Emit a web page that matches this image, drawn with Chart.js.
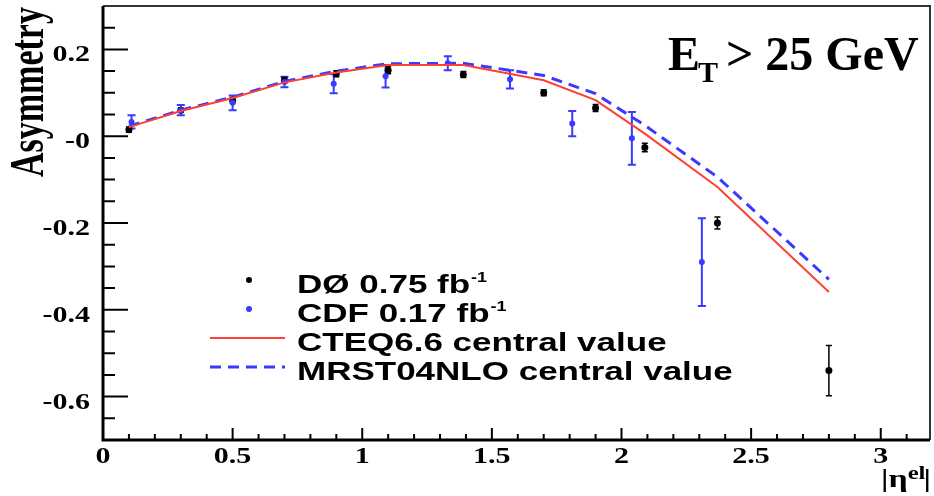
<!DOCTYPE html>
<html>
<head>
<meta charset="utf-8">
<script src="https://cdn.jsdelivr.net/npm/chart.js@4"></script>
<style>
  html, body { margin: 0; padding: 0; background: #fff; }
  canvas { display: block; }
</style>
</head>
<body>
<canvas id="asymChart" width="934" height="496"></canvas>
<script>
// D0 0.75 fb-1 measurement
const d0Eta = [0.10, 0.30, 0.50, 0.70, 0.90, 1.10, 1.39, 1.70, 1.90, 2.09, 2.37, 2.80];
const d0Asym = [0.015, 0.060, 0.083, 0.129, 0.144, 0.152, 0.142, 0.100, 0.065, -0.026, -0.200, -0.540];
const d0Err = [0.006, 0.005, 0.006, 0.006, 0.007, 0.008, 0.007, 0.007, 0.008, 0.010, 0.014, 0.058];

// CDF 0.17 fb-1 measurement
const cdfEta = [0.11, 0.30, 0.50, 0.70, 0.89, 1.09, 1.33, 1.57, 1.81, 2.04, 2.31];
const cdfAsym = [0.033, 0.060, 0.077, 0.125, 0.121, 0.138, 0.168, 0.131, 0.029, -0.005, -0.290];
const cdfErr = [0.015, 0.012, 0.017, 0.012, 0.022, 0.026, 0.016, 0.021, 0.029, 0.061, 0.101];

// theory predictions
const theoryEta = [0.10, 0.30, 0.50, 0.70, 0.90, 1.10, 1.39, 1.70, 1.90, 2.09, 2.37, 2.80];
const cteqAsym = [0.021, 0.058, 0.088, 0.124, 0.147, 0.164, 0.164, 0.129, 0.083, 0.006, -0.117, -0.359];
const mrstAsym = [0.023, 0.060, 0.090, 0.126, 0.150, 0.167, 0.168, 0.140, 0.098, 0.025, -0.094, -0.330];

// axis ticks
const xTickValues = [0, 0.5, 1, 1.5, 2, 2.5, 3];
const xTickLabels = ["0", "0.5", "1", "1.5", "2", "2.5", "3"];
const yTickValues = [0.2, 0, -0.2, -0.4, -0.6];
const yTickLabels = ["0.2", "-0", "-0.2", "-0.4", "-0.6"];

const legendLabels = ["DØ 0.75 fb", "CDF 0.17 fb", "CTEQ6.6 central value", "MRST04NLO central value"];
const legendSup = ["-1", "-1", "", ""];

const RED = "rgb(255,64,48)";
const BLUE = "rgb(58,58,255)";

function toPoints(xs, ys) {
  return xs.map((x, i) => ({ x: x, y: ys[i] }));
}

// text drawn with a horizontal stretch
function stretched(ctx, text, x, y, font, align, sx) {
  ctx.save();
  ctx.font = font;
  ctx.translate(x, y);
  ctx.scale(sx, 1);
  ctx.textAlign = align;
  ctx.textBaseline = "alphabetic";
  ctx.fillText(text, 0, 0);
  const w = ctx.measureText(text).width * sx;
  ctx.restore();
  return w;
}

function drawErrorBars(chart, xs, ys, errs, color, width, cap) {
  const ctx = chart.ctx;
  const sx = chart.scales.x, sy = chart.scales.y;
  ctx.save();
  ctx.strokeStyle = color;
  ctx.lineWidth = width;
  xs.forEach((x, i) => {
    const px = sx.getPixelForValue(x);
    const top = sy.getPixelForValue(ys[i] + errs[i]);
    const bot = sy.getPixelForValue(ys[i] - errs[i]);
    ctx.beginPath();
    ctx.moveTo(px, top); ctx.lineTo(px, bot);
    ctx.moveTo(px - cap, top); ctx.lineTo(px + cap, top);
    ctx.moveTo(px - cap, bot); ctx.lineTo(px + cap, bot);
    ctx.stroke();
  });
  ctx.restore();
}

const rootStyle = {
  id: "rootStyle",
  beforeDatasetsDraw(chart) {
    drawErrorBars(chart, cdfEta, cdfAsym, cdfErr, BLUE, 2, 4);
    drawErrorBars(chart, d0Eta, d0Asym, d0Err, "#000", 1.5, 3);
  },
  afterDraw(chart) {
    const ctx = chart.ctx;
    const a = chart.chartArea;
    const sx = chart.scales.x, sy = chart.scales.y;
    ctx.save();

    // frame
    ctx.strokeStyle = "#333";
    ctx.lineWidth = 2;
    ctx.beginPath();
    ctx.moveTo(a.left, a.top); ctx.lineTo(a.right, a.top); ctx.lineTo(a.right, a.bottom);
    ctx.stroke();
    ctx.strokeStyle = "#000";
    ctx.lineWidth = 3;
    ctx.beginPath();
    ctx.moveTo(a.left, a.top); ctx.lineTo(a.left, a.bottom); ctx.lineTo(a.right, a.bottom);
    ctx.stroke();

    // ticks on the inside of the axes
    ctx.lineWidth = 2;
    ctx.beginPath();
    for (let i = -13; i <= 5; i++) {
      const py = sy.getPixelForValue(i * 0.05);
      const len = i % 4 === 0 ? 25 : 12;
      ctx.moveTo(a.left, py); ctx.lineTo(a.left + len, py);
    }
    for (let i = 1; i <= 31; i++) {
      const px = sx.getPixelForValue(i * 0.1);
      const len = i % 5 === 0 ? 12 : 6;
      ctx.moveTo(px, a.bottom); ctx.lineTo(px, a.bottom - len);
    }
    ctx.stroke();

    // tick labels
    ctx.fillStyle = "#000";
    const tickFont = "bold 24px 'Liberation Serif'";
    yTickValues.forEach((v, i) => {
      stretched(ctx, yTickLabels[i], 90, sy.getPixelForValue(v) + 12, tickFont, "right", 1.25);
    });
    xTickValues.forEach((v, i) => {
      stretched(ctx, xTickLabels[i], sx.getPixelForValue(v), 463, tickFont, "center", 1.25);
    });

    // y title, rotated
    ctx.save();
    ctx.font = "bold 34px 'Liberation Serif'";
    ctx.translate(43, 177);
    ctx.rotate(-Math.PI / 2);
    ctx.scale(1, 1.4);
    ctx.textAlign = "left";
    ctx.fillText("Asymmetry", 0, 0);
    ctx.restore();

    // x title |eta^el|
    const titleFont = "bold 26px 'Liberation Serif'";
    let tx = 881;
    tx += stretched(ctx, "|η", tx, 487, titleFont, "left", 1.3);
    tx += stretched(ctx, "el", tx, 479, "bold 19px 'Liberation Serif'", "left", 1.3);
    stretched(ctx, "|", tx - 2, 487, titleFont, "left", 1.3);

    // cut label
    stretched(ctx, "E", 668, 70, "bold 48px 'Liberation Serif'", "left", 1);
    stretched(ctx, "T", 698, 82, "bold 30px 'Liberation Serif'", "left", 1);
    stretched(ctx, "> 25 GeV", 726, 70, "bold 48px 'Liberation Serif'", "left", 1);

    // legend
    const rows = [280, 309, 338, 367];
    const baselines = [293, 322, 351, 380];
    ctx.fillStyle = "#000";
    ctx.beginPath(); ctx.arc(249, rows[0], 3, 0, Math.PI * 2); ctx.fill();
    ctx.fillStyle = BLUE;
    ctx.beginPath(); ctx.arc(249, rows[1], 3, 0, Math.PI * 2); ctx.fill();
    ctx.strokeStyle = RED;
    ctx.lineWidth = 2;
    ctx.beginPath(); ctx.moveTo(210, rows[2]); ctx.lineTo(285, rows[2]); ctx.stroke();
    ctx.strokeStyle = BLUE;
    ctx.lineWidth = 3;
    ctx.setLineDash([11, 7]);
    ctx.beginPath(); ctx.moveTo(210, rows[3]); ctx.lineTo(285, rows[3]); ctx.stroke();
    ctx.setLineDash([]);

    ctx.fillStyle = "#000";
    legendLabels.forEach((label, i) => {
      const w = stretched(ctx, label, 297, baselines[i], "bold 25px 'Liberation Sans'", "left", 1.4);
      if (legendSup[i]) {
        stretched(ctx, legendSup[i], 297 + w + 1, baselines[i] - 11, "bold 15px 'Liberation Sans'", "left", 1.2);
      }
    });

    ctx.restore();
  }
};

new Chart(document.getElementById("asymChart"), {
  type: "scatter",
  data: {
    datasets: [
      {
        label: "CTEQ6.6 central value",
        data: toPoints(theoryEta, cteqAsym),
        showLine: true,
        borderColor: RED,
        borderWidth: 2,
        pointRadius: 0,
        tension: 0
      },
      {
        label: "MRST04NLO central value",
        data: toPoints(theoryEta, mrstAsym),
        showLine: true,
        borderColor: BLUE,
        borderWidth: 3,
        borderDash: [11, 7],
        pointRadius: 0,
        tension: 0
      },
      {
        label: "CDF 0.17 fb-1",
        data: toPoints(cdfEta, cdfAsym),
        backgroundColor: BLUE,
        borderColor: BLUE,
        pointRadius: 3,
        borderWidth: 0
      },
      {
        label: "DØ 0.75 fb-1",
        data: toPoints(d0Eta, d0Asym),
        backgroundColor: "#000",
        borderColor: "#000",
        pointRadius: 3.5,
        borderWidth: 0
      }
    ]
  },
  options: {
    responsive: false,
    animation: false,
    layout: { padding: { left: 103, right: 2, top: 6, bottom: 56 } },
    plugins: {
      legend: { display: false },
      tooltip: { enabled: false }
    },
    scales: {
      x: { type: "linear", min: 0, max: 3.19, display: false },
      y: { type: "linear", min: -0.7, max: 0.3, display: false }
    }
  },
  plugins: [rootStyle]
});
</script>
</body>
</html>
